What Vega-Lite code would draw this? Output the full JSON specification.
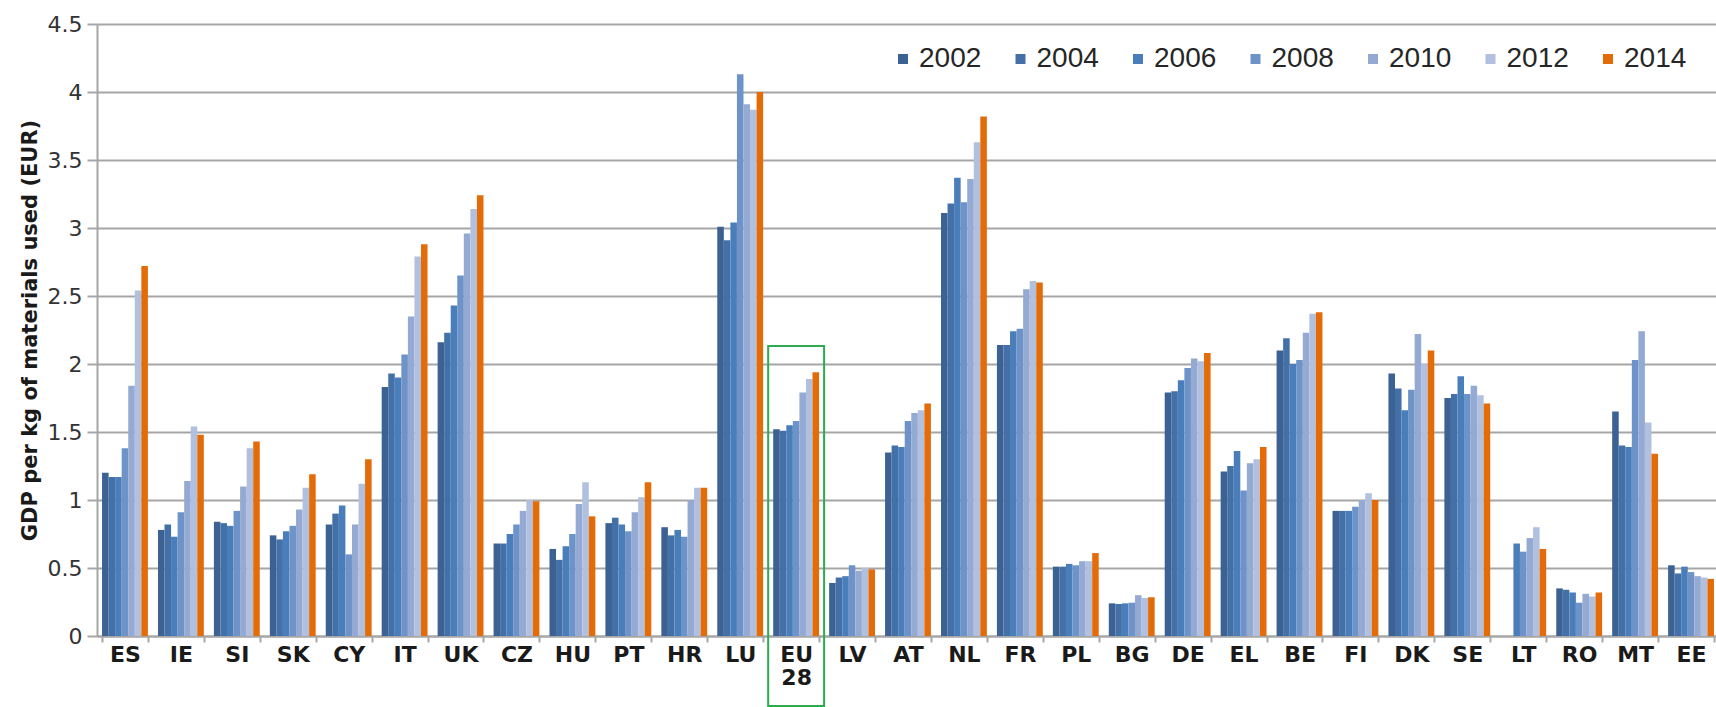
{
  "$schema": "https://vega.github.io/schema/vega-lite/v6.json",
  "width": 1622,
  "height": 612,
  "autosize": {"type": "none"},
  "padding": {"left": 97, "top": 24, "right": 0, "bottom": 71},
  "background": "white",
  "config": {"view": {"stroke": null}},
  "layer": [
    {
      "data": {"values": [
        {"country":"ES","year":"2002","value":1.20},{"country":"ES","year":"2004","value":1.17},{"country":"ES","year":"2006","value":1.17},{"country":"ES","year":"2008","value":1.38},{"country":"ES","year":"2010","value":1.84},{"country":"ES","year":"2012","value":2.54},{"country":"ES","year":"2014","value":2.72},
        {"country":"IE","year":"2002","value":0.78},{"country":"IE","year":"2004","value":0.82},{"country":"IE","year":"2006","value":0.73},{"country":"IE","year":"2008","value":0.91},{"country":"IE","year":"2010","value":1.14},{"country":"IE","year":"2012","value":1.54},{"country":"IE","year":"2014","value":1.48},
        {"country":"SI","year":"2002","value":0.84},{"country":"SI","year":"2004","value":0.83},{"country":"SI","year":"2006","value":0.81},{"country":"SI","year":"2008","value":0.92},{"country":"SI","year":"2010","value":1.10},{"country":"SI","year":"2012","value":1.38},{"country":"SI","year":"2014","value":1.43},
        {"country":"SK","year":"2002","value":0.74},{"country":"SK","year":"2004","value":0.71},{"country":"SK","year":"2006","value":0.77},{"country":"SK","year":"2008","value":0.81},{"country":"SK","year":"2010","value":0.93},{"country":"SK","year":"2012","value":1.09},{"country":"SK","year":"2014","value":1.19},
        {"country":"CY","year":"2002","value":0.82},{"country":"CY","year":"2004","value":0.90},{"country":"CY","year":"2006","value":0.96},{"country":"CY","year":"2008","value":0.60},{"country":"CY","year":"2010","value":0.82},{"country":"CY","year":"2012","value":1.12},{"country":"CY","year":"2014","value":1.30},
        {"country":"IT","year":"2002","value":1.83},{"country":"IT","year":"2004","value":1.93},{"country":"IT","year":"2006","value":1.90},{"country":"IT","year":"2008","value":2.07},{"country":"IT","year":"2010","value":2.35},{"country":"IT","year":"2012","value":2.79},{"country":"IT","year":"2014","value":2.88},
        {"country":"UK","year":"2002","value":2.16},{"country":"UK","year":"2004","value":2.23},{"country":"UK","year":"2006","value":2.43},{"country":"UK","year":"2008","value":2.65},{"country":"UK","year":"2010","value":2.96},{"country":"UK","year":"2012","value":3.14},{"country":"UK","year":"2014","value":3.24},
        {"country":"CZ","year":"2002","value":0.68},{"country":"CZ","year":"2004","value":0.68},{"country":"CZ","year":"2006","value":0.75},{"country":"CZ","year":"2008","value":0.82},{"country":"CZ","year":"2010","value":0.92},{"country":"CZ","year":"2012","value":1.00},{"country":"CZ","year":"2014","value":0.99},
        {"country":"HU","year":"2002","value":0.64},{"country":"HU","year":"2004","value":0.56},{"country":"HU","year":"2006","value":0.66},{"country":"HU","year":"2008","value":0.75},{"country":"HU","year":"2010","value":0.97},{"country":"HU","year":"2012","value":1.13},{"country":"HU","year":"2014","value":0.88},
        {"country":"PT","year":"2002","value":0.83},{"country":"PT","year":"2004","value":0.87},{"country":"PT","year":"2006","value":0.82},{"country":"PT","year":"2008","value":0.77},{"country":"PT","year":"2010","value":0.91},{"country":"PT","year":"2012","value":1.02},{"country":"PT","year":"2014","value":1.13},
        {"country":"HR","year":"2002","value":0.80},{"country":"HR","year":"2004","value":0.74},{"country":"HR","year":"2006","value":0.78},{"country":"HR","year":"2008","value":0.73},{"country":"HR","year":"2010","value":1.00},{"country":"HR","year":"2012","value":1.09},{"country":"HR","year":"2014","value":1.09},
        {"country":"LU","year":"2002","value":3.01},{"country":"LU","year":"2004","value":2.91},{"country":"LU","year":"2006","value":3.04},{"country":"LU","year":"2008","value":4.13},{"country":"LU","year":"2010","value":3.91},{"country":"LU","year":"2012","value":3.87},{"country":"LU","year":"2014","value":4.00},
        {"country":"EU28","year":"2002","value":1.52},{"country":"EU28","year":"2004","value":1.51},{"country":"EU28","year":"2006","value":1.55},{"country":"EU28","year":"2008","value":1.58},{"country":"EU28","year":"2010","value":1.79},{"country":"EU28","year":"2012","value":1.89},{"country":"EU28","year":"2014","value":1.94},
        {"country":"LV","year":"2002","value":0.39},{"country":"LV","year":"2004","value":0.43},{"country":"LV","year":"2006","value":0.44},{"country":"LV","year":"2008","value":0.52},{"country":"LV","year":"2010","value":0.48},{"country":"LV","year":"2012","value":0.50},{"country":"LV","year":"2014","value":0.49},
        {"country":"AT","year":"2002","value":1.35},{"country":"AT","year":"2004","value":1.40},{"country":"AT","year":"2006","value":1.39},{"country":"AT","year":"2008","value":1.58},{"country":"AT","year":"2010","value":1.64},{"country":"AT","year":"2012","value":1.66},{"country":"AT","year":"2014","value":1.71},
        {"country":"NL","year":"2002","value":3.11},{"country":"NL","year":"2004","value":3.18},{"country":"NL","year":"2006","value":3.37},{"country":"NL","year":"2008","value":3.19},{"country":"NL","year":"2010","value":3.36},{"country":"NL","year":"2012","value":3.63},{"country":"NL","year":"2014","value":3.82},
        {"country":"FR","year":"2002","value":2.14},{"country":"FR","year":"2004","value":2.14},{"country":"FR","year":"2006","value":2.24},{"country":"FR","year":"2008","value":2.26},{"country":"FR","year":"2010","value":2.55},{"country":"FR","year":"2012","value":2.61},{"country":"FR","year":"2014","value":2.60},
        {"country":"PL","year":"2002","value":0.51},{"country":"PL","year":"2004","value":0.51},{"country":"PL","year":"2006","value":0.53},{"country":"PL","year":"2008","value":0.52},{"country":"PL","year":"2010","value":0.55},{"country":"PL","year":"2012","value":0.55},{"country":"PL","year":"2014","value":0.61},
        {"country":"BG","year":"2002","value":0.24},{"country":"BG","year":"2004","value":0.235},{"country":"BG","year":"2006","value":0.24},{"country":"BG","year":"2008","value":0.245},{"country":"BG","year":"2010","value":0.30},{"country":"BG","year":"2012","value":0.28},{"country":"BG","year":"2014","value":0.285},
        {"country":"DE","year":"2002","value":1.79},{"country":"DE","year":"2004","value":1.80},{"country":"DE","year":"2006","value":1.88},{"country":"DE","year":"2008","value":1.97},{"country":"DE","year":"2010","value":2.04},{"country":"DE","year":"2012","value":2.02},{"country":"DE","year":"2014","value":2.08},
        {"country":"EL","year":"2002","value":1.21},{"country":"EL","year":"2004","value":1.25},{"country":"EL","year":"2006","value":1.36},{"country":"EL","year":"2008","value":1.07},{"country":"EL","year":"2010","value":1.27},{"country":"EL","year":"2012","value":1.30},{"country":"EL","year":"2014","value":1.39},
        {"country":"BE","year":"2002","value":2.10},{"country":"BE","year":"2004","value":2.19},{"country":"BE","year":"2006","value":2.00},{"country":"BE","year":"2008","value":2.03},{"country":"BE","year":"2010","value":2.23},{"country":"BE","year":"2012","value":2.37},{"country":"BE","year":"2014","value":2.38},
        {"country":"FI","year":"2002","value":0.92},{"country":"FI","year":"2004","value":0.92},{"country":"FI","year":"2006","value":0.92},{"country":"FI","year":"2008","value":0.95},{"country":"FI","year":"2010","value":1.00},{"country":"FI","year":"2012","value":1.05},{"country":"FI","year":"2014","value":1.00},
        {"country":"DK","year":"2002","value":1.93},{"country":"DK","year":"2004","value":1.82},{"country":"DK","year":"2006","value":1.66},{"country":"DK","year":"2008","value":1.81},{"country":"DK","year":"2010","value":2.22},{"country":"DK","year":"2012","value":2.00},{"country":"DK","year":"2014","value":2.10},
        {"country":"SE","year":"2002","value":1.75},{"country":"SE","year":"2004","value":1.78},{"country":"SE","year":"2006","value":1.91},{"country":"SE","year":"2008","value":1.78},{"country":"SE","year":"2010","value":1.84},{"country":"SE","year":"2012","value":1.77},{"country":"SE","year":"2014","value":1.71},
        {"country":"LT","year":"2006","value":0.68},{"country":"LT","year":"2008","value":0.62},{"country":"LT","year":"2010","value":0.72},{"country":"LT","year":"2012","value":0.80},{"country":"LT","year":"2014","value":0.64},
        {"country":"RO","year":"2002","value":0.35},{"country":"RO","year":"2004","value":0.34},{"country":"RO","year":"2006","value":0.32},{"country":"RO","year":"2008","value":0.245},{"country":"RO","year":"2010","value":0.31},{"country":"RO","year":"2012","value":0.29},{"country":"RO","year":"2014","value":0.32},
        {"country":"MT","year":"2002","value":1.65},{"country":"MT","year":"2004","value":1.40},{"country":"MT","year":"2006","value":1.39},{"country":"MT","year":"2008","value":2.03},{"country":"MT","year":"2010","value":2.24},{"country":"MT","year":"2012","value":1.57},{"country":"MT","year":"2014","value":1.34},
        {"country":"EE","year":"2002","value":0.52},{"country":"EE","year":"2004","value":0.46},{"country":"EE","year":"2006","value":0.51},{"country":"EE","year":"2008","value":0.47},{"country":"EE","year":"2010","value":0.44},{"country":"EE","year":"2012","value":0.43},{"country":"EE","year":"2014","value":0.42}
      ]},
      "mark": {"type": "bar"},
      "encoding": {
        "x": {
          "field": "country", "type": "nominal",
          "scale": {
            "domain": ["ES","IE","SI","SK","CY","IT","UK","CZ","HU","PT","HR","LU","EU28","LV","AT","NL","FR","PL","BG","DE","EL","BE","FI","DK","SE","LT","RO","MT","EE"],
            "paddingInner": 0.18, "paddingOuter": 0.09
          },
          "axis": {
            "title": null, "labelAngle": 0,
            "labelExpr": "datum.value == 'EU28' ? ['EU', '28'] : datum.value",
            "labelFont": "DejaVu Sans", "labelFontWeight": "bold", "labelFontSize": 22,
            "labelColor": "#1a1a1a", "labelLineHeight": 23, "labelPadding": 2,
            "tickBand": "extent", "tickColor": "#A6A6A6", "tickSize": 6, "tickWidth": 2,
            "domainColor": "#A6A6A6", "domainWidth": 2, "grid": false
          }
        },
        "xOffset": {"field": "year", "type": "nominal", "scale": {"domain": ["2002","2004","2006","2008","2010","2012","2014"], "paddingInner": 0, "paddingOuter": 0}},
        "y": {
          "field": "value", "type": "quantitative",
          "scale": {"domain": [0, 4.5], "nice": false, "zero": true},
          "axis": {
            "values": [0, 0.5, 1, 1.5, 2, 2.5, 3, 3.5, 4, 4.5],
            "format": "~g",
            "title": "GDP per kg of materials used (EUR)",
            "titleFont": "DejaVu Sans", "titleFontWeight": "bold", "titleFontSize": 21,
            "titleColor": "#1a1a1a", "titlePadding": 7,
            "labelFont": "DejaVu Sans", "labelFontSize": 22, "labelColor": "#333333", "labelPadding": 5,
            "grid": true, "gridColor": "#A6A6A6", "gridWidth": 2,
            "domainColor": "#A6A6A6", "domainWidth": 2,
            "tickColor": "#A6A6A6", "tickSize": 10, "tickWidth": 2
          }
        },
        "color": {
          "field": "year", "type": "nominal",
          "scale": {
            "domain": ["2002","2004","2006","2008","2010","2012","2014"],
            "range": ["#3C6193","#4470A8","#4A7EBB","#6D93C8","#95AAD3","#B1C0DE","#E36C09"]
          },
          "legend": {
            "title": null, "orient": "none", "direction": "horizontal", "columns": 7,
            "legendX": 792, "legendY": 21, "padding": 0,
            "symbolType": "square", "symbolSize": 100, "symbolStrokeWidth": 0,
            "labelFont": "Liberation Sans", "labelFontSize": 28, "labelColor": "#262626",
            "labelOffset": 2, "columnPadding": 24.5
          }
        }
      }
    },
    {
      "data": {"values": [{"country": "EU28", "top": 2.132, "bottom": -0.515}]},
      "mark": {"type": "bar", "filled": false, "stroke": "#2EAA4F", "strokeWidth": 2, "width": {"band": 1.2195}, "clip": false},
      "encoding": {
        "x": {"field": "country", "type": "nominal"},
        "y": {"field": "top", "type": "quantitative"},
        "y2": {"field": "bottom"}
      }
    }
  ]
}
